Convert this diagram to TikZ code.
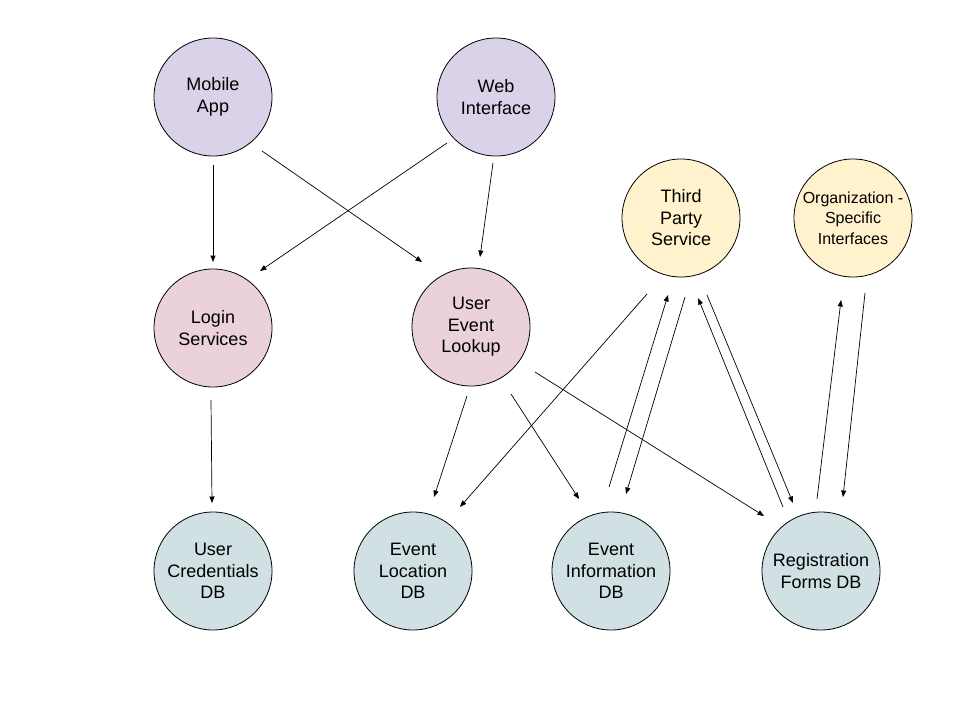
\documentclass[tikz,border=0pt]{standalone}
\usepackage{fontspec}
\setmainfont{Liberation Sans}
\usetikzlibrary{calc,arrows.meta}
\definecolor{cpurple}{HTML}{D9D2E9}
\definecolor{cpink}{HTML}{EAD1DC}
\definecolor{cyellow}{HTML}{FFF2CC}
\definecolor{cteal}{HTML}{D0E0E3}
\tikzset{
  bubble/.style={circle, draw=black, line width=0.8pt, minimum size=118pt, inner sep=0pt, align=center,
    font=\fontsize{18}{21.5}\selectfont},
  clientnode/.style={bubble, fill=cpurple},
  servicenode/.style={bubble, fill=cpink},
  extnode/.style={bubble, fill=cyellow},
  dbnode/.style={bubble, fill=cteal},
  arr/.style={line width=0.7pt, -{Triangle[length=6.5pt,width=5pt]}}
}
\begin{document}
\begin{tikzpicture}[x=1pt,y=-1pt]
\useasboundingbox[fill=white] (0,0) rectangle (960,720);
\node[clientnode] (ma) at (213,97) {Mobile\\App};
\node[clientnode] (wi) at (496,97) {Web\\Interface};
\node[extnode] (tp) at (681,218) {Third\\Party\\Service};
\node[extnode, font=\fontsize{16}{20.5}\selectfont] (org) at (853,218) {Organization -\\Specific\\Interfaces};
\node[servicenode] (ls) at (213,328) {Login\\Services};
\node[servicenode] (uel) at (471,327) {User\\Event\\Lookup};
\node[dbnode] (ucd) at (213,571) {User\\Credentials\\DB};
\node[dbnode] (eld) at (413,571) {Event\\Location\\DB};
\node[dbnode] (eid) at (611,571) {Event\\Information\\DB};
\node[dbnode] (rfd) at (821,571) {Registration\\Forms DB};

\draw[arr] ($(ma)+(0,68)$) -- ($(ls)+(0,-66)$);
\draw[arr] ($(ma)+(49,54)$) -- ($(uel)+(-49,-65)$);
\draw[arr] ($(wi)+(-49,46)$) -- ($(ls)+(47,-57)$);
\draw[arr] ($(wi)+(-3,66)$) -- ($(uel)+(9,-70)$);
\draw[arr] ($(ls)+(-2,72)$) -- ($(ucd)+(-1,-68)$);
\draw[arr] ($(uel)+(-4,69)$) -- ($(eld)+(21,-74)$);
\draw[arr] ($(uel)+(40,67)$) -- ($(eid)+(-32,-72)$);
\draw[arr] ($(uel)+(64,45)$) -- ($(rfd)+(-57,-55)$);
\draw[arr] ($(tp)+(-34,76)$) -- ($(eld)+(47,-64)$);
\draw[arr] ($(eid)+(-2,-84)$) -- ($(tp)+(-13,77)$);
\draw[arr] ($(tp)+(4,79)$) -- ($(eid)+(15,-77)$);
\draw[arr] ($(rfd)+(-38,-64)$) -- ($(tp)+(17,80)$);
\draw[arr] ($(tp)+(26,77)$) -- ($(rfd)+(-28,-68)$);
\draw[arr] ($(rfd)+(-4,-72)$) -- ($(org)+(-12,82)$);
\draw[arr] ($(org)+(12,75)$) -- ($(rfd)+(22,-74)$);
\end{tikzpicture}
\end{document}
